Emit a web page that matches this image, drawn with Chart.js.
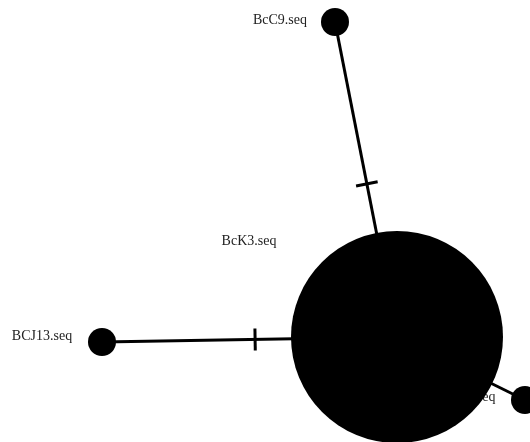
<!DOCTYPE html>
<html>
<head>
<meta charset="utf-8">
<title>Haplotype network</title>
<script src="https://cdn.jsdelivr.net/npm/chart.js@4.4.1/dist/chart.umd.min.js"></script>
<style>
  html, body { margin: 0; padding: 0; background: #fff; }
  #wrap { width: 530px; height: 442px; }
</style>
</head>
<body>
<div id="wrap"><canvas id="net" width="530" height="442"></canvas></div>
<script>
// haplotypes (node centres in plot units, radius ~ frequency)
const nodeNames = ['BcC9.seq', 'BcK3.seq', 'BCJ13.seq', 'BcH8.seq'];
const nodeX = [335, 397, 102, 525];
const nodeY = [22, 337, 342, 400];
const nodeR = [14, 106, 14, 14];

// where the names sit
const labelX = [280, 249, 42, 468];
const labelY = [20, 241, 336, 397];

// links between haplotypes and mutation marks along them (fraction of length)
const edgeFrom = [0, 2, 1];
const edgeTo = [1, 1, 3];
const edgeTicks = [[0.514], [0.519], []];

const TICK_LEN = 22;

function buildDatasets() {
    const sets = [];
    // nodes on top of everything
    sets.push({
        label: 'nodes',
        data: nodeX.map((x, i) => ({ x: x, y: nodeY[i] })),
        pointRadius: nodeR,
        pointHoverRadius: nodeR,
        pointBackgroundColor: '#000',
        pointBorderWidth: 0,
        showLine: false,
        order: 0,
        clip: false
    });
    edgeFrom.forEach((a, i) => {
        const b = edgeTo[i];
        sets.push({
            label: 'edge' + i,
            data: [{ x: nodeX[a], y: nodeY[a] }, { x: nodeX[b], y: nodeY[b] }],
            showLine: true,
            borderColor: '#000',
            borderWidth: 3,
            pointRadius: 0,
            order: 2,
            clip: false
        });
        // perpendicular mutation ticks
        const dx = nodeX[b] - nodeX[a], dy = nodeY[b] - nodeY[a];
        const len = Math.sqrt(dx * dx + dy * dy);
        const px = -dy / len * TICK_LEN / 2, py = dx / len * TICK_LEN / 2;
        edgeTicks[i].forEach(t => {
            const cx = nodeX[a] + dx * t, cy = nodeY[a] + dy * t;
            sets.push({
                label: 'tick',
                data: [{ x: cx - px, y: cy - py }, { x: cx + px, y: cy + py }],
                showLine: true,
                borderColor: '#000',
                borderWidth: 3,
                pointRadius: 0,
                order: 1,
                clip: false
            });
        });
    });
    return sets;
}

// names are drawn under the datasets so the big node can cover them
const labelPlugin = {
    id: 'nodeLabels',
    beforeDatasetsDraw(chart) {
        const ctx = chart.ctx;
        const xs = chart.scales.x, ys = chart.scales.y;
        ctx.save();
        ctx.fillStyle = '#222';
        ctx.font = '14px "Liberation Serif", "DejaVu Serif", serif';
        ctx.textAlign = 'center';
        ctx.textBaseline = 'middle';
        nodeNames.forEach((n, i) => {
            ctx.fillText(n, xs.getPixelForValue(labelX[i]), ys.getPixelForValue(labelY[i]));
        });
        ctx.restore();
    }
};

new Chart(document.getElementById('net').getContext('2d'), {
    type: 'scatter',
    data: { datasets: buildDatasets() },
    options: {
        responsive: false,
        animation: false,
        events: [],
        layout: { padding: 0, autoPadding: false },
        plugins: {
            legend: { display: false },
            tooltip: { enabled: false }
        },
        scales: {
            x: { type: 'linear', min: 0, max: 530, display: false },
            y: { type: 'linear', min: 0, max: 442, reverse: true, display: false }
        }
    },
    plugins: [labelPlugin]
});
</script>
</body>
</html>
